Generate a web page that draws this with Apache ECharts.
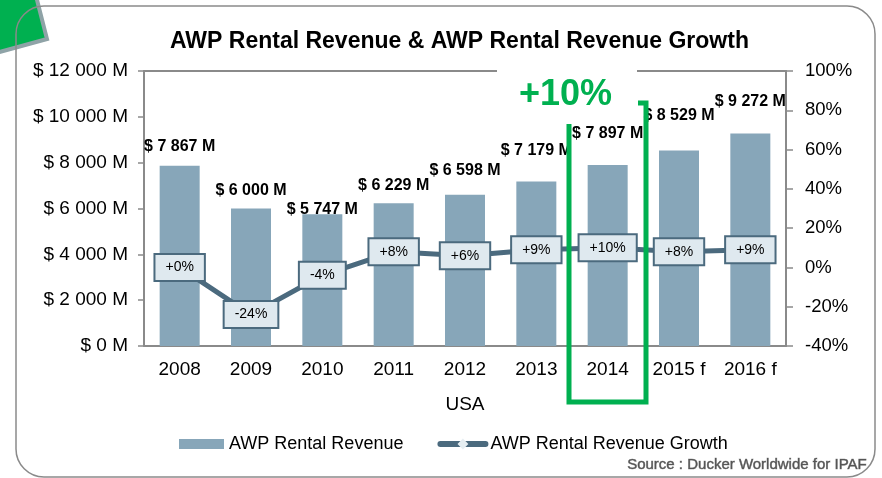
<!DOCTYPE html>
<html>
<head>
<meta charset="utf-8">
<title>AWP Rental Revenue</title>
<script src="https://cdn.jsdelivr.net/npm/echarts@6/dist/echarts.min.js"></script>
<style>
  html, body { margin: 0; padding: 0; background: #fff; }
  #chart { width: 882px; height: 478px; }
</style>
</head>
<body>
<div id="chart"></div>
<script>
// data
var years = ['2008', '2009', '2010', '2011', '2012', '2013', '2014', '2015 f', '2016 f'];
var revenue = [7867, 6000, 5747, 6229, 6598, 7179, 7897, 8529, 9272];
var growth = [0, -24, -4, 8, 6, 9, 10, 8, 9];
var region = ['USA'];

// how far each revenue label sits above its bar (style only)
var labelLift = [11, 10, -3, 10, 16, 23, 23, 27, 24];

var FONT = '"Liberation Sans", Arial, sans-serif';
var AXIS = '#8a8a8a';
var BAR = '#87a6b9';
var LINE = '#4b6a7e';
var GREEN = '#00b050';

function money(v) {
    return '$ ' + String(v).replace(/\B(?=(\d{3})+(?!\d))/g, ' ') + ' M';
}
function pct(v) {
    return (v >= 0 ? '+' : '') + v + '%';
}

var barData = revenue.map(function (v, i) {
    return { value: v, label: { distance: labelLift[i] } };
});

var chart = echarts.init(document.getElementById('chart'));
var option = {
    animation: false,
    textStyle: { fontFamily: FONT },
    title: {
        text: 'AWP Rental Revenue & AWP Rental Revenue Growth',
        left: 165, top: 25,
        textStyle: { fontSize: 23, fontWeight: 'bold', color: '#000', fontFamily: FONT }
    },
    legend: {
        left: 174, top: 430,
        itemWidth: 45, itemHeight: 10, itemGap: 34,
        textStyle: { fontSize: 18, color: '#000', fontFamily: FONT },
        data: [
            { name: 'AWP Rental Revenue', icon: 'rect' },
            { name: 'AWP Rental Revenue Growth', itemStyle: { color: '#e6eef2', borderColor: '#e6eef2' },
              lineStyle: { width: 6, color: LINE, cap: 'round' } }
        ]
    },
    grid: { left: 144, right: 96, top: 71, bottom: 132 },
    xAxis: [{
        type: 'category',
        data: years,
        position: 'bottom',
        axisLine: { lineStyle: { color: AXIS, width: 2 } },
        axisTick: { length: 32, lineStyle: { color: AXIS, width: 1.5 } },
        axisLabel: { fontSize: 19, color: '#000', margin: 14, fontFamily: FONT }
    }, {
        type: 'category',
        data: region,
        position: 'bottom',
        axisLine: { show: false },
        axisTick: { length: 69, lineStyle: { color: AXIS, width: 1.5 } },
        axisLabel: { fontSize: 19, color: '#000', margin: 49, fontFamily: FONT }
    }, {
        type: 'category',
        data: years,
        position: 'top',
        axisLine: { lineStyle: { color: AXIS, width: 2 } },
        axisTick: { show: false },
        axisLabel: { show: false }
    }],
    yAxis: [{
        type: 'value',
        min: 0, max: 12000, interval: 2000,
        axisLine: { show: true, lineStyle: { color: AXIS, width: 2 } },
        axisTick: { show: true, length: 6, lineStyle: { color: AXIS, width: 1.5 } },
        splitLine: { show: false },
        axisLabel: { fontSize: 19, color: '#000', margin: 16, formatter: money, fontFamily: FONT }
    }, {
        type: 'value',
        position: 'right',
        min: -40, max: 100, interval: 20,
        axisLine: { show: true, lineStyle: { color: AXIS, width: 2 } },
        axisTick: { show: true, length: 7, lineStyle: { color: AXIS, width: 1.5 } },
        splitLine: { show: false },
        axisLabel: { fontSize: 18.5, color: '#000', margin: 19, formatter: '{value}%', fontFamily: FONT }
    }],
    series: [{
        name: 'AWP Rental Revenue',
        type: 'bar',
        xAxisIndex: 0, yAxisIndex: 0,
        barWidth: 40,
        itemStyle: { color: BAR },
        label: {
            show: true, position: 'top',
            fontSize: 16, fontWeight: 'bold', color: '#000', fontFamily: FONT,
            formatter: function (p) { return money(p.value); }
        },
        data: barData
    }, {
        name: 'AWP Rental Revenue Growth',
        type: 'line',
        xAxisIndex: 0, yAxisIndex: 1,
        symbol: 'diamond', symbolSize: 7,
        itemStyle: { color: '#e6eef2', borderColor: LINE, borderWidth: 1 },
        lineStyle: { color: LINE, width: 5 },
        z: 3,
        label: {
            show: true, position: 'inside',
            fontSize: 14, color: '#000', fontFamily: FONT,
            backgroundColor: '#dfe9ef',
            borderColor: LINE, borderWidth: 2,
            padding: [6, 10, 5, 10],
            formatter: function (p) { return pct(p.value); }
        },
        data: growth
    }],
    graphic: [
        // green corner tab
        { type: 'polygon', z: 1,
          shape: { points: [[-4, -4], [36, -4], [47, 39], [-4, 53]] },
          style: { fill: GREEN, stroke: '#8fa3a7', lineWidth: 4 } },
        // rounded frame
        { type: 'rect', z: 2,
          shape: { x: 16, y: 6, width: 859, height: 471, r: 28 },
          style: { fill: 'none', stroke: AXIS, lineWidth: 1.5 } },
        // gap in the top border behind the callout
        { type: 'rect', z: 50,
          shape: { x: 497, y: 66, width: 140, height: 10 },
          style: { fill: '#fff' } },
        // green highlight around 2014
        { type: 'polyline', z: 60,
          shape: { points: [[569, 124], [569, 402], [646, 402], [646, 103], [638, 103]] },
          style: { stroke: GREEN, lineWidth: 5, fill: 'none' } },
        { type: 'text', z: 61, left: 519, top: 77,
          style: { text: '+10%', fill: GREEN, font: 'bold 36px ' + FONT } },
        { type: 'text', z: 61, right: 15, top: 457,
          style: { text: 'Source : Ducker Worldwide for IPAF', fill: '#555', font: '15px ' + FONT,
                   stroke: '#888', lineWidth: 0.6 } }
    ]
};
chart.setOption(option);
</script>
</body>
</html>
